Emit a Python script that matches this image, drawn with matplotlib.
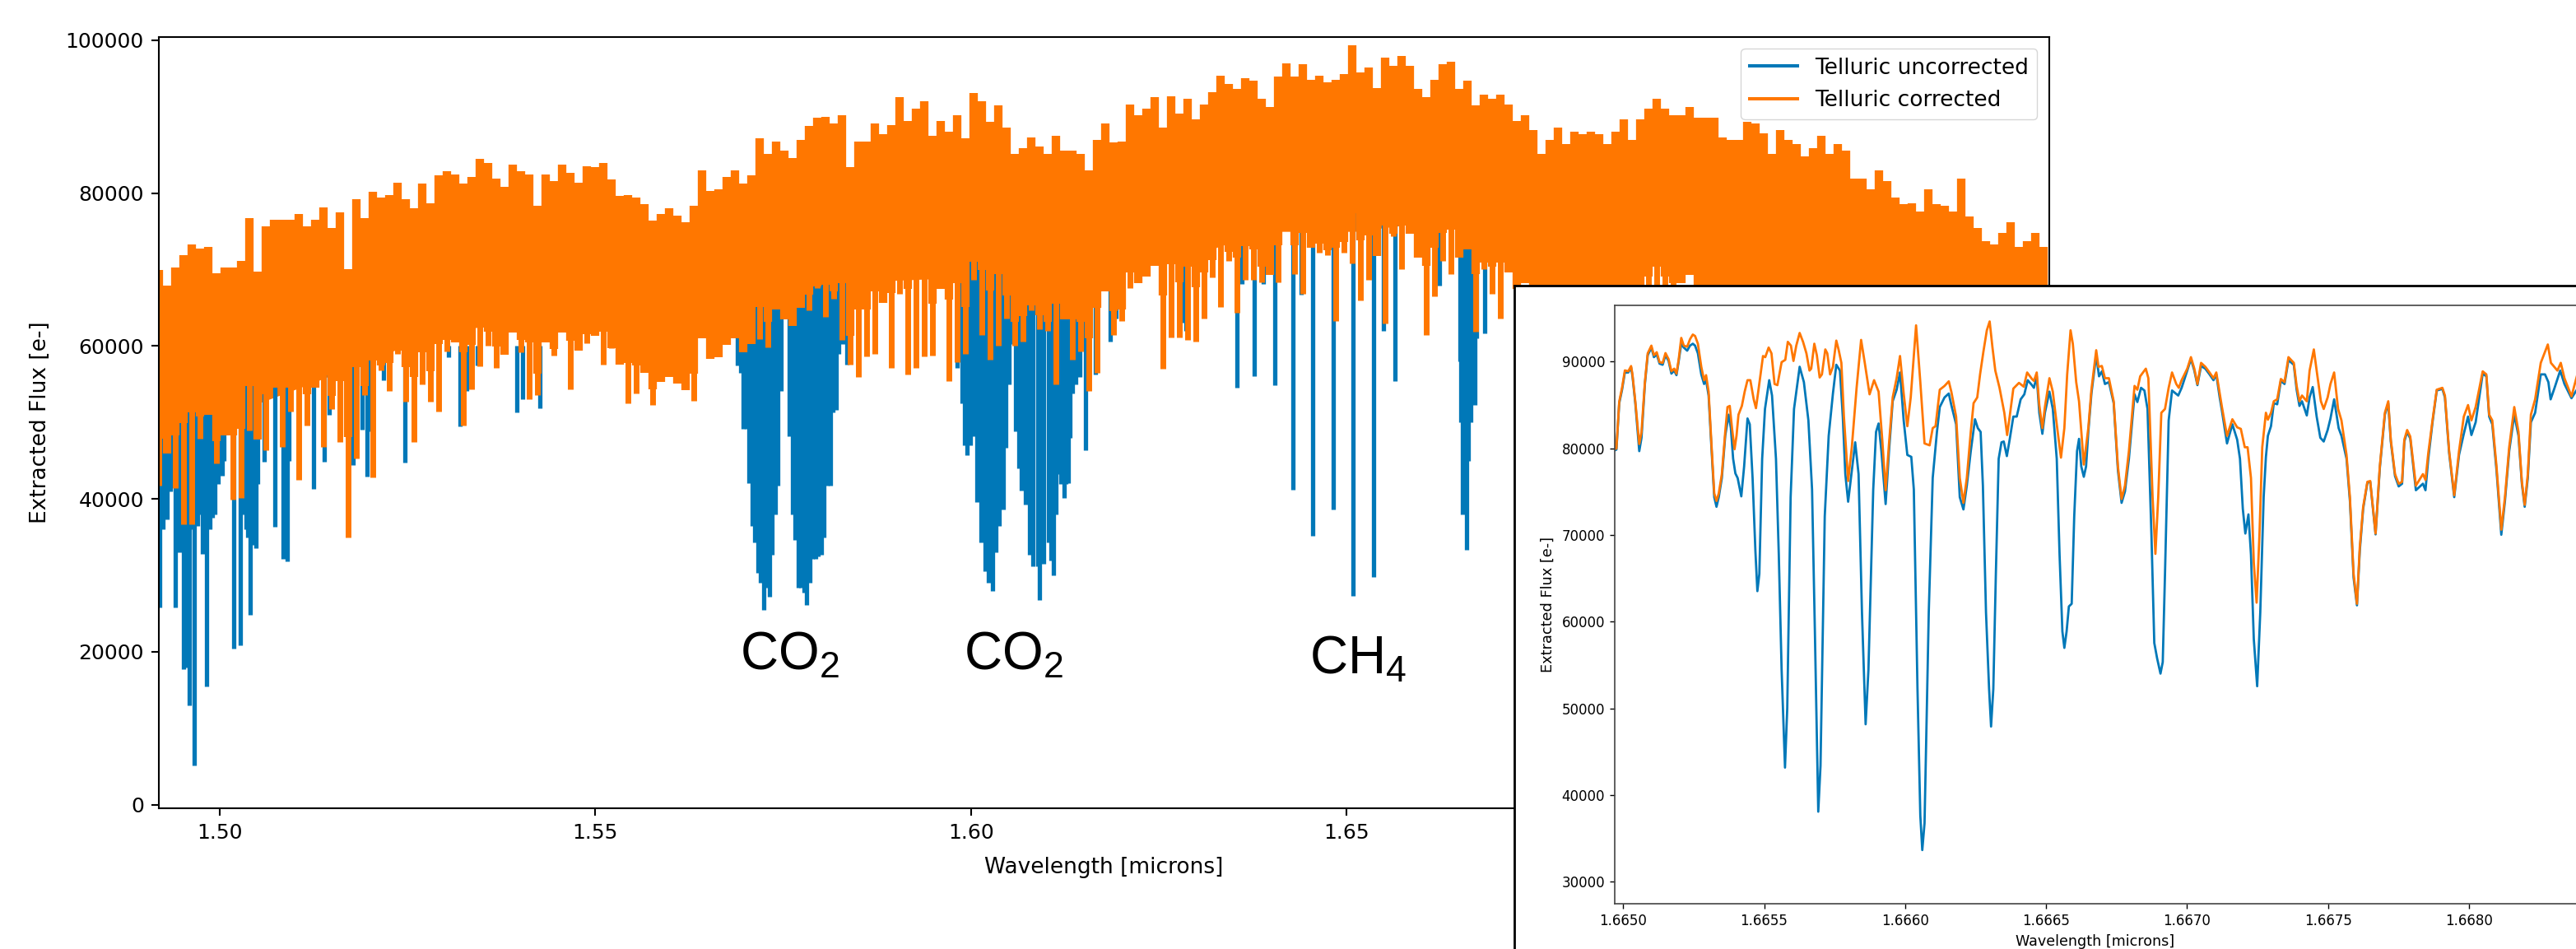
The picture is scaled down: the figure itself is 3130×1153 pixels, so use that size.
import numpy as np
import matplotlib
matplotlib.use('Agg')
import matplotlib.pyplot as plt

BLUE = '#0078b8'
ORANGE = '#ff7700'

# full spectrum, upper and lower edge of the orange band
orange_hi = [
    69930, 67950, 70290, 71900, 73340, 72800, 72980, 69570, 70290, 70290, 71180, 76750, 69750, 75670, 76570,
    76570, 76570, 77290, 75670, 76570, 78190, 75490, 77470, 70110, 79260, 76750, 80160, 79440, 79800, 81410,
    79260, 78000, 81240, 78720, 82310, 82850, 82490, 81240, 82130, 84470, 83930, 81950, 80880, 83750, 82850,
    82490, 78360, 82490, 81590, 83750, 82670, 81410, 83570, 83390, 83930, 81770, 79620, 79800,
    79440, 78540, 76390, 77280, 78000, 77100, 76210, 78360, 83030, 80340, 80520, 82130, 83030, 81230, 82310,
    87160, 85180, 86800, 85540, 84650, 86980, 88770, 89850, 90030, 89130, 90210, 83390, 86800, 86800, 89130,
    87700, 88950, 92540, 89490, 91110, 92000, 87520, 89490, 88060, 90210, 87160, 93080, 92000, 89310, 91470,
    88600, 85180, 85900, 87340, 86080, 85180, 87520, 85540, 85540, 85180, 83030, 86980, 89130,
    86620, 86800, 91650, 90210, 91110, 92540, 88590, 92720, 90390, 92360, 89670, 91650, 93260, 95420, 94340,
    93620, 95060, 94700, 92360, 91290, 95240, 97030, 95240, 96850, 94880, 95420, 94520, 94880, 95600, 99360,
    95780, 96490, 93800, 97750, 96670, 97930, 96670, 93620, 92540, 94880, 96850, 97210, 93620, 94700, 91470,
    92900, 92360, 92900, 91650, 89490, 90210, 88240, 85180, 86980, 88590, 86440, 88060, 87700,
    88050, 87700, 86440, 88050, 89670, 86980, 89670, 91110, 92360, 91110, 90210, 90210, 91290, 89850, 89850,
    89850, 87340, 86980, 86980, 89310, 89130, 87880, 85180, 88230, 86980, 86440, 84830, 85900, 87520, 85180,
    86440, 85540, 81950, 81950, 80520, 83030, 81590, 79440, 78540, 78720, 77640, 80520, 78540, 78360, 77640,
    81950, 76930, 75490, 73700, 73340, 74770, 76210, 72980, 73700, 74770, 72980,
]
orange_lo = [
    41750, 49640, 41390, 36720, 36720, 47850, 51440, 44620, 48930, 39950, 40130, 48930, 55030, 46410, 54670,
    46770, 51440, 42460, 49640, 55030, 46770, 51800, 47490, 34920, 45340, 53590, 42820, 56820, 54130, 58980,
    52700, 47490, 55030, 52700, 51440, 59340, 60770, 49640, 54310, 57360, 60060, 57180, 60410, 64720, 59160,
    53050, 53590, 61130, 58800, 63290, 54310, 62930, 60410, 64720, 57540, 59700, 61850, 52520,
    53770, 58260, 52330, 58800, 56280, 59520, 59340, 52880, 64720, 58440, 60770, 66880, 64720, 63640, 66520,
    60950, 59870, 70460, 71540, 65260, 68670, 64720, 67590, 63820, 66160, 60770, 57540, 55930, 58620, 58980,
    69390, 57180, 66880, 56280, 57180, 58620, 58800, 74060, 55390, 57900, 58980, 68670, 61490, 58260, 60050,
    63640, 60050, 60590, 64720, 62210, 62030, 55030, 67240, 58260, 59340, 54130, 56460, 69390,
    61490, 63290, 67590, 68490, 69750, 75850, 57000, 61130, 61130, 60770, 60590, 63640, 69030, 65080, 71180,
    64360, 68670, 68670, 68310, 70470, 68310, 76210, 69390, 66875, 73700, 72260, 71900, 63290, 72260, 70820,
    65980, 68670, 72980, 62930, 74410, 70110, 74770, 72260, 61490, 66520, 71180, 69390, 73340, 75850, 61850,
    70110, 66875, 63640, 71180, 59340, 74050, 72260, 71540, 70470, 72620, 72980, 72260, 68670,
    60000, 78540, 60000, 78180, 60000, 60000, 60000, 60000, 60000, 60000, 60000, 74055, 73000, 60000, 60000,
    60000, 60000, 60000, 60000, 60000, 60000, 73700, 60000, 60000, 60000, 60000, 60000, 60000, 60000, 60000,
    60000, 60000, 60000, 60000, 60000, 60000, 60000, 60000, 60000, 60000, 60000, 60000, 60000, 60000, 60000,
    60000, 60000, 60000, 60000, 60000, 60000, 60000, 60000, 60000, 60000, 60000,
]
orange_wave = np.linspace(1.49195, 1.74278, len(orange_hi))

# the part of the orange band that is solid
core_wave = [1.4918, 1.4977, 1.5038, 1.5119, 1.5240, 1.5321, 1.5443, 1.5524, 1.5592, 1.5633, 1.5714, 1.5835, 1.5876,
             1.5997, 1.6078, 1.6159, 1.6227, 1.6308, 1.6389, 1.6511, 1.6592, 1.6673, 1.6755, 1.6789, 1.70, 1.7063, 1.7440]
core_lo = [50000, 50000, 52000, 55000, 59700, 62200, 63500, 64000, 63500, 65800, 65800, 66500, 68500,
           69000, 67600, 69400, 72260, 72260, 75000, 75000, 76000, 76000, 74000, 76000, 76000, 62000, 62000]
core_hi = [62000, 66000, 67000, 68000, 72000, 74000, 74000, 71000, 70000, 72000, 76000, 78000, 80000,
           79000, 77000, 78000, 80000, 82000, 83000, 84000, 84000, 82000, 80000, 79000, 78000, 76000, 66000]

# the blue lines that reach below the orange band
blue_wave = [
    1.49206, 1.49250, 1.49305, 1.49348, 1.49414, 1.49469, 1.49524, 1.49557, 1.49596, 1.49633, 1.49666, 1.49710,
    1.49770, 1.49826, 1.49874, 1.49907, 1.49945, 1.49984, 1.50038, 1.50196, 1.50279, 1.50334, 1.50378, 1.50411,
    1.50455, 1.50488, 1.50601, 1.50734, 1.50849, 1.50904, 1.51254, 1.51391, 1.51462, 1.51775, 1.51900, 1.51970,
    1.52010, 1.52181, 1.52470, 1.53050, 1.53204, 1.53291, 1.53434, 1.53960, 1.54037, 1.54262,
    1.49228, 1.49277, 1.49380, 1.49440, 1.49495, 1.49615, 1.49688, 1.49735, 1.49798, 1.50000, 1.50060, 1.50355,
    1.50433, 1.50510, 1.50870, 1.50925,
    1.56670, 1.56812,
    1.56897, 1.56935, 1.56973, 1.57012, 1.57050, 1.57089, 1.57127, 1.57166, 1.57204, 1.57242, 1.57281, 1.57319,
    1.57358, 1.57396, 1.57434, 1.57473,
    1.57588, 1.57627, 1.57665, 1.57703, 1.57742, 1.57780, 1.57819, 1.57857, 1.57895, 1.57934, 1.57972, 1.58011,
    1.58049, 1.58087, 1.58126, 1.58164, 1.58203, 1.58241, 1.58295, 1.58351,
    1.59816, 1.59878, 1.59916, 1.59954, 1.59992, 1.60031, 1.60085, 1.60139, 1.60185, 1.60239, 1.60293, 1.60331,
    1.60377, 1.60431, 1.60469, 1.60508, 1.60554,
    1.60600, 1.60640, 1.60677, 1.60723, 1.60777, 1.60830, 1.60892, 1.60915, 1.60969, 1.61030, 1.61065, 1.61099,
    1.61130, 1.61161, 1.61200, 1.61238, 1.61265, 1.61291, 1.61322, 1.61353, 1.61392, 1.61430, 1.61451, 1.61522,
    1.61658, 1.61856, 1.61928, 1.61968,
    1.62807, 1.62860, 1.63542, 1.63609, 1.63773, 1.63893, 1.64042, 1.64288, 1.64399, 1.64549, 1.64826, 1.65087,
    1.65364, 1.65494, 1.65648, 1.66231,
    1.66507, 1.66524, 1.66539, 1.66566, 1.66593, 1.66620, 1.66650, 1.66680, 1.66708, 1.66730, 1.66835,
]
blue_lo = [
    25760, 36000, 37300, 41000, 25760, 33000, 17720, 18000, 13050, 36000, 5150, 36500,
    32830, 15450, 36000, 37500, 37980, 42000, 43000, 20470, 20810, 38000, 35000, 24790,
    34000, 33520, 44850, 36400, 32140, 31800, 41280, 44850, 51000, 44440, 49100, 42920,
    48830, 55500, 44710, 58580, 49520, 54130, 57420, 51370, 53000, 51860,
    40000, 42000, 42000, 40000, 36000, 38000, 37000, 38000, 38000, 44000, 45000, 36000,
    36000, 42000, 45000, 45000,
    60770, 62200,
    57480, 56500, 49130, 49130, 42020, 36460, 34300, 30280, 29040, 25450, 28420, 27180,
    32750, 38000, 41710, 54080,
    48200, 38000, 34600, 28420, 28420, 27800, 26130, 29040, 32130, 32130, 32440, 32750,
    34910, 41710, 41710, 51300, 51600, 59020, 60260, 57540,
    57170, 52530, 47000, 45730, 47000, 48200, 39550, 34300, 30580, 29040, 27990, 33060,
    36460, 38620, 46660, 55000, 60260,
    48820, 44000, 41090, 39240, 32750, 31200, 31200, 26750, 31510, 34300, 32000, 29970,
    38000, 43260, 42000, 40170, 42000, 42020, 48000, 53770, 55000, 56550, 56000, 46350,
    56290, 60590, 63640, 65000,
    63110, 62000, 54510, 68130, 56120, 68130, 54880, 41220, 66700, 35220, 38620, 27370,
    29840, 62030, 55440, 67950,
    58000, 50000, 38000, 42000, 33370, 45000, 50000, 55000, 52300, 61000, 61670,
]
# the blue lines end inside the orange band
blue_top_left = 60000
blue_top_right = 78000

# inset, wavelength offsets from 1.6650 in units of 1e-4 microns
inset_orange_u = [
    -0.35, -0.30, -0.24, -0.14, -0.04, 0.06, 0.18, 0.28, 0.33, 0.43, 0.57, 0.65, 0.77, 0.87, 1.00, 1.09, 1.19, 1.29,
    1.40, 1.50, 1.61, 1.71, 1.81, 1.89, 1.97, 2.06, 2.15, 2.27, 2.37, 2.47, 2.55, 2.65, 2.77, 2.87, 2.94, 3.03, 3.13,
    3.23, 3.31, 3.39, 3.50, 3.62, 3.70, 3.78, 3.86, 3.95, 4.02, 4.09, 4.21, 4.31, 4.41, 4.51, 4.63, 4.71, 4.80, 4.96,
    5.04, 5.16, 5.26, 5.37, 5.47, 5.62, 5.75, 5.84, 5.95, 6.04, 6.14, 6.26, 6.38, 6.50, 6.61, 6.67, 6.78, 6.87, 6.97,
    7.05, 7.17, 7.24, 7.34, 7.44, 7.56, 7.64, 7.74, 7.83, 7.98, 8.11, 8.28, 8.44, 8.57, 8.74, 8.90, 9.06, 9.19, 9.31,
    9.43, 9.56, 9.70, 9.82, 9.95, 10.08, 10.20, 10.39, 10.54, 10.69, 10.87, 10.98, 11.08, 11.23, 11.40,
    11.55, 11.64, 11.81, 11.94, 12.07, 12.19, 12.33, 12.43, 12.56, 12.66, 12.78, 12.90, 13.00, 13.10, 13.20, 13.35,
    13.52, 13.62, 13.71, 13.84, 14.04, 14.21, 14.33, 14.50, 14.57, 14.67, 14.76, 14.87, 14.96, 15.12, 15.24, 15.38,
    15.53, 15.65, 15.75, 15.87, 15.95, 16.07, 16.17, 16.34, 16.50, 16.61, 16.78, 16.86, 16.98, 17.09, 17.23, 17.40,
    17.55, 17.68, 17.80, 17.94, 18.14, 18.24, 18.34, 18.54, 18.63, 18.78, 18.88, 18.98, 19.09, 19.22, 19.35, 19.47,
    19.62, 19.71, 19.81, 20.01, 20.14, 20.26, 20.37, 20.50, 20.65, 20.80, 20.94, 21.04, 21.16, 21.24, 21.42, 21.61,
    21.78, 21.91, 22.05, 22.15, 22.27, 22.37, 22.47, 22.57, 22.67, 22.80,
    22.87, 22.98, 23.08, 23.20, 23.33, 23.46, 23.60, 23.79, 23.89, 23.99, 24.08, 24.25, 24.35, 24.50, 24.60, 24.75,
    24.85, 24.99, 25.09, 25.22, 25.36, 25.48, 25.66, 25.78, 25.91, 26.03, 26.13, 26.25, 26.40, 26.50, 26.69, 26.84,
    27.02, 27.14, 27.23, 27.38, 27.51, 27.63, 27.71, 27.81, 27.92, 28.12, 28.37, 28.46, 28.56, 28.71, 28.86, 29.06,
    29.15, 29.30, 29.48, 29.65, 29.82, 29.97, 30.09, 30.24, 30.49, 30.62, 30.72, 30.83, 30.98, 31.15, 31.28, 31.43,
    31.61, 31.76, 31.88, 31.98, 32.09, 32.20, 32.35, 32.55, 32.80, 32.91, 33.14, 33.26, 33.39, 33.64, 33.83, 33.93,
    34.08,
]
inset_orange = [
    82340, 79900, 80000, 85400, 87000, 89000, 88900, 89500, 88500, 85400, 80500, 81900, 87650, 90970, 91860, 90750,
    91100, 89950, 89870, 91000, 90300, 88900, 89200, 88630, 90300, 92750, 91860, 91730, 92600, 93140, 92970, 92080,
    89420, 87870, 88450, 86550, 80570, 74800, 73930, 74800, 77020, 81900, 84770, 84900, 82340, 79900, 81450, 83890,
    84900, 86550, 87870, 87870, 85660, 84640, 86770, 90660, 90530, 91640, 90970, 87430, 87300, 89950, 90220, 92300,
    91860, 90090, 91860, 93320, 92300, 90970, 88980, 89200, 92080, 90750, 88180, 88540, 91420, 90970, 88540, 89420,
    92440, 91420, 89870, 83670, 76230, 80130, 86990, 92520, 89870, 86240, 87870, 86550, 81010, 75170, 80570, 85880,
    88100, 90660, 86330, 82560, 85880, 94200, 87650, 80570, 80350, 82340, 82560, 86770, 87210,
    87740, 86550, 83670, 76580, 73710, 76580, 81900, 85220, 85880, 88540, 91200, 93630, 94650, 91640, 88980, 86990,
    84110, 81540, 83670, 86900, 87560, 87120, 88760, 88010, 87790, 88760, 85000, 82340, 84770, 88100, 86550, 82780,
    78930, 82340, 88540, 93630, 92080, 87650, 85440, 78130, 82340, 86770, 91330, 89420, 89510, 88100, 88100, 85440,
    77910, 74150, 75700, 79680, 87210, 86770, 88320, 89200, 88100, 74370, 67820, 74370, 84110, 84550, 86990, 88760,
    87430, 86990, 87870, 89200, 90530, 89200, 87430, 89870, 89420, 88760, 88100, 88760, 86330, 84770, 81450, 83360,
    82430, 82250, 80130, 80130, 76580, 66840, 62190, 69940, 80130, 84110,
    83310, 84110, 85440, 85660, 88010, 87650, 90530, 89870, 87210, 85440, 86100, 85440, 88980, 91420, 88980, 85440,
    84550, 85880, 87430, 88760, 84550, 83230, 79240, 74370, 65510, 62060, 68610, 73260, 76140, 76230, 70170, 77910,
    84110, 85440, 81010, 77030, 75920, 76140, 81010, 82120, 81370, 75700, 77030, 76360, 79460, 83230, 86770, 86990,
    86100, 79680, 74590, 79680, 83670, 85000, 83230, 84770, 88890, 88540, 83890, 83230, 77910, 70610, 74370, 80130,
    84770, 81900, 76140, 73480, 77030, 83890, 85660, 89870, 91990, 89870, 88980, 89870, 88100, 86010, 88320, 87870,
    84550,
]
inset_blue_u = [
    -0.35, -0.30, -0.24, -0.14, -0.04, 0.06, 0.18, 0.28, 0.33, 0.43, 0.57, 0.65, 0.77, 0.87, 1.00, 1.09, 1.19, 1.29,
    1.40, 1.50, 1.61, 1.71, 1.81, 1.89, 1.97, 2.06, 2.15, 2.27, 2.37, 2.47, 2.55, 2.65, 2.77, 2.87, 2.94, 3.03, 3.13,
    3.23, 3.31, 3.39, 3.50, 3.62, 3.74, 3.82, 3.90, 3.98, 4.06, 4.19, 4.29, 4.41, 4.49, 4.59, 4.69, 4.76, 4.83, 4.93,
    5.03, 5.18, 5.28, 5.42, 5.52, 5.62, 5.74, 5.82, 5.94, 6.06, 6.26, 6.41, 6.57, 6.70, 6.80, 6.92, 7.00, 7.15, 7.29,
    7.44, 7.56, 7.69, 7.79, 7.88, 7.98, 8.08, 8.23, 8.35, 8.47, 8.60, 8.70, 8.87, 8.97, 9.06, 9.16, 9.31, 9.43, 9.56,
    9.70, 9.82, 9.95, 10.08, 10.22, 10.31, 10.44, 10.54, 10.61, 10.69, 10.84, 10.98, 11.13, 11.23, 11.40,
    11.55, 11.64, 11.81, 11.94, 12.07, 12.19, 12.33, 12.48, 12.58, 12.68, 12.76, 12.87, 12.98, 13.05, 13.13, 13.22,
    13.32, 13.42, 13.50, 13.61, 13.71, 13.84, 13.96, 14.10, 14.23, 14.35, 14.50, 14.57, 14.67, 14.76, 14.87, 14.96,
    15.12, 15.24, 15.38, 15.48, 15.58, 15.65, 15.73, 15.81, 15.91, 16.00, 16.10, 16.17, 16.25, 16.34, 16.42, 16.50,
    16.61, 16.78, 16.88, 16.98, 17.09, 17.23, 17.40, 17.55, 17.68, 17.80, 17.94, 18.14, 18.24, 18.37, 18.49, 18.60,
    18.74, 18.84, 18.94, 19.06, 19.14, 19.22, 19.35, 19.47, 19.69, 19.81, 20.01, 20.14, 20.26, 20.37, 20.50, 20.65,
    20.80, 20.94, 21.04, 21.16, 21.24, 21.42, 21.61, 21.78, 21.88, 21.98, 22.07, 22.18, 22.27, 22.37, 22.49, 22.60,
    22.72, 22.80,
    22.87, 22.98, 23.08, 23.20, 23.33, 23.46, 23.60, 23.79, 23.89, 23.99, 24.08, 24.25, 24.35, 24.46, 24.60, 24.73,
    24.85, 24.99, 25.09, 25.22, 25.38, 25.48, 25.66, 25.78, 25.91, 26.03, 26.13, 26.25, 26.40, 26.50, 26.69, 26.84,
    27.02, 27.14, 27.23, 27.38, 27.51, 27.63, 27.71, 27.81, 27.92, 28.12, 28.37, 28.46, 28.56, 28.71, 28.86, 29.06,
    29.15, 29.30, 29.48, 29.65, 29.82, 29.97, 30.09, 30.24, 30.49, 30.62, 30.72, 30.83, 30.98, 31.15, 31.28, 31.43,
    31.61, 31.76, 31.88, 31.98, 32.09, 32.20, 32.35, 32.55, 32.70, 32.82, 32.90, 33.04, 33.24, 33.39, 33.64, 33.83,
    34.05,
]
inset_blue = [
    82340, 79770, 79860, 85220, 86770, 88760, 88760, 89340, 88320, 85220, 79680, 81230, 87430, 90750, 91640, 90530,
    90840, 89780, 89650, 90750, 90090, 88630, 88980, 88450, 90090, 92080, 91640, 91280, 91860, 92080, 91860, 90970,
    88540, 87430, 87870, 86100, 80130, 74370, 73260, 74370, 76580, 81450, 83890, 82340, 78800, 77110, 76580, 74460,
    77910, 83450, 82780, 76580, 68170, 63520, 65510, 78800, 84550, 87870, 86100, 78800, 67730, 54440, 43150, 50020,
    74370, 84550, 89420, 87650, 83230, 75250, 58870, 38060, 43370, 72150, 81450, 86320, 89650, 88980, 83670, 77030,
    73840, 76580, 80700, 77030, 61080, 48150, 54440, 75250, 81900, 82870, 79680, 73570, 79680, 85440, 86770, 88760,
    83230, 79240, 79020, 75250, 52230, 37620, 33630, 36730, 61080, 76580, 81900, 84770, 85880,
    86330, 85000, 82780, 74370, 72950, 75700, 79680, 83360, 82340, 81900, 75700, 61080, 52230, 47890, 52230, 65510,
    78800, 80700, 80790, 79110, 81010, 83670, 83670, 85660, 86240, 87870, 87300, 86990, 88320, 84110, 81680, 84110,
    86550, 84550, 78800, 67730, 58870, 56970, 58870, 61750, 62060, 72150, 79680, 81100, 77910, 76720, 77910, 81900,
    86330, 90750, 88320, 88890, 87430, 87650, 85220, 77470, 73710, 75030, 78800, 86240, 85350, 86990, 86680, 84550,
    69940, 57540, 55770, 54000, 55330, 65510, 83230, 86680, 86100, 86990, 88980, 90310, 88980, 87300, 89510, 89200,
    88540, 87870, 88540, 85880, 84330, 80570, 82780, 81010, 78800, 73040, 70170, 72380, 67730, 57990, 52540, 61080,
    74370, 79020,
    81450, 82560, 85220, 85090, 87790, 87430, 90180, 89650, 86770, 84900, 85440, 83800, 85880, 87080, 83670, 81230,
    80790, 82120, 83450, 85660, 82340, 81450, 78800, 73930, 65070, 61880, 68170, 73040, 76050, 76140, 70070, 77690,
    83890, 85220, 80790, 76800, 75610, 75920, 80790, 81900, 81140, 75170, 75920, 75170, 78800, 83010, 86680, 86860,
    85880, 79460, 74370, 79240, 81680, 83670, 81540, 83010, 88630, 88320, 83670, 82780, 77470, 70030, 73930, 79680,
    83890, 81450, 75920, 73260, 76580, 83010, 84110, 88540, 88540, 87650, 85660, 86990, 88980, 87430, 85790, 86770,
    81760,
]

main_xticks = [1.50, 1.55, 1.60, 1.65, 1.70]
main_yticks = [0, 20000, 40000, 60000, 80000, 100000]
inset_xticks = [1.6650, 1.6655, 1.6660, 1.6665, 1.6670, 1.6675, 1.6680]
inset_yticks = [30000, 40000, 50000, 60000, 70000, 80000, 90000]

W, H = 3130, 1153
fig = plt.figure(figsize=(W / 100, H / 100), dpi=100)


def axes_px(left, top, right, bottom):
    return fig.add_axes([left / W, 1 - bottom / H, (right - left) / W, (bottom - top) / H])


# main panel
ax = axes_px(193, 44.6, 2490, 982)
blue_top = np.where(np.array(blue_wave) < 1.56, blue_top_left, blue_top_right)
ax.vlines(blue_wave, blue_lo, blue_top, color=BLUE, lw=3.8)
ax.fill_between(core_wave, core_lo, core_hi, color=ORANGE, lw=0)
ax.vlines(orange_wave, orange_lo, orange_hi, color=ORANGE, lw=5.0)
ax.vlines(orange_wave, np.array(orange_hi) - 22000, orange_hi, color=ORANGE, lw=7.4)
ax.plot([], [], color=BLUE, lw=2.9, label='Telluric uncorrected')
ax.plot([], [], color=ORANGE, lw=2.9, label='Telluric corrected')
ax.set_xlim(1.49195, 1.7435)
ax.set_ylim(-460, 100470)
ax.set_xticks(main_xticks)
ax.set_xticklabels(['%.2f' % t for t in main_xticks])
ax.set_yticks(main_yticks)
ax.tick_params(labelsize=18, width=1.5, length=6.5, pad=6.5)
for s in ax.spines.values():
    s.set_linewidth(1.5)
ax.set_xlabel('Wavelength [microns]', fontsize=19, labelpad=12)
ax.set_ylabel('Extracted Flux [e-]', fontsize=19, labelpad=13)
ax.legend(loc='upper right', fontsize=19, borderaxespad=0.55, handlelength=2.2)

for x, y, name in [(1.56928, 17630, 'CO_2'), (1.59907, 17630, 'CO_2'), (1.6451, 17090, 'CH_4')]:
    ax.text(x, y, '$\\mathregular{%s}$' % name, fontsize=46, family='Liberation Sans', color='black', va='baseline')

# white box behind the inset
box = axes_px(1840, 347, W, H)
box.set_xticks([])
box.set_yticks([])
box.spines['right'].set_visible(False)
box.spines['bottom'].set_visible(False)
for s in ['left', 'top']:
    box.spines[s].set_linewidth(2)

# inset
ins = axes_px(1962, 371, W, 1098)
ins.plot(1.665 + np.array(inset_blue_u) * 1e-4, inset_blue, color=BLUE, lw=2.0)
ins.plot(1.665 + np.array(inset_orange_u) * 1e-4, inset_orange, color=ORANGE, lw=2.0)
ins.set_xlim(1.66497, 1.66838)
ins.set_ylim(27435, 96508)
ins.set_xticks(inset_xticks)
ins.set_xticklabels(['%.4f' % t for t in inset_xticks])
ins.set_yticks(inset_yticks)
ins.tick_params(labelsize=12, width=1, length=4.5, pad=4)
ins.spines['right'].set_visible(False)
for s in ins.spines.values():
    s.set_linewidth(1.2)
    s.set_color('#444444')
ins.set_xlabel('Wavelength [microns]', fontsize=12.6, labelpad=5)
ins.set_ylabel('Extracted Flux [e-]', fontsize=12.8, labelpad=6)

fig.savefig('out.png', dpi=100)
